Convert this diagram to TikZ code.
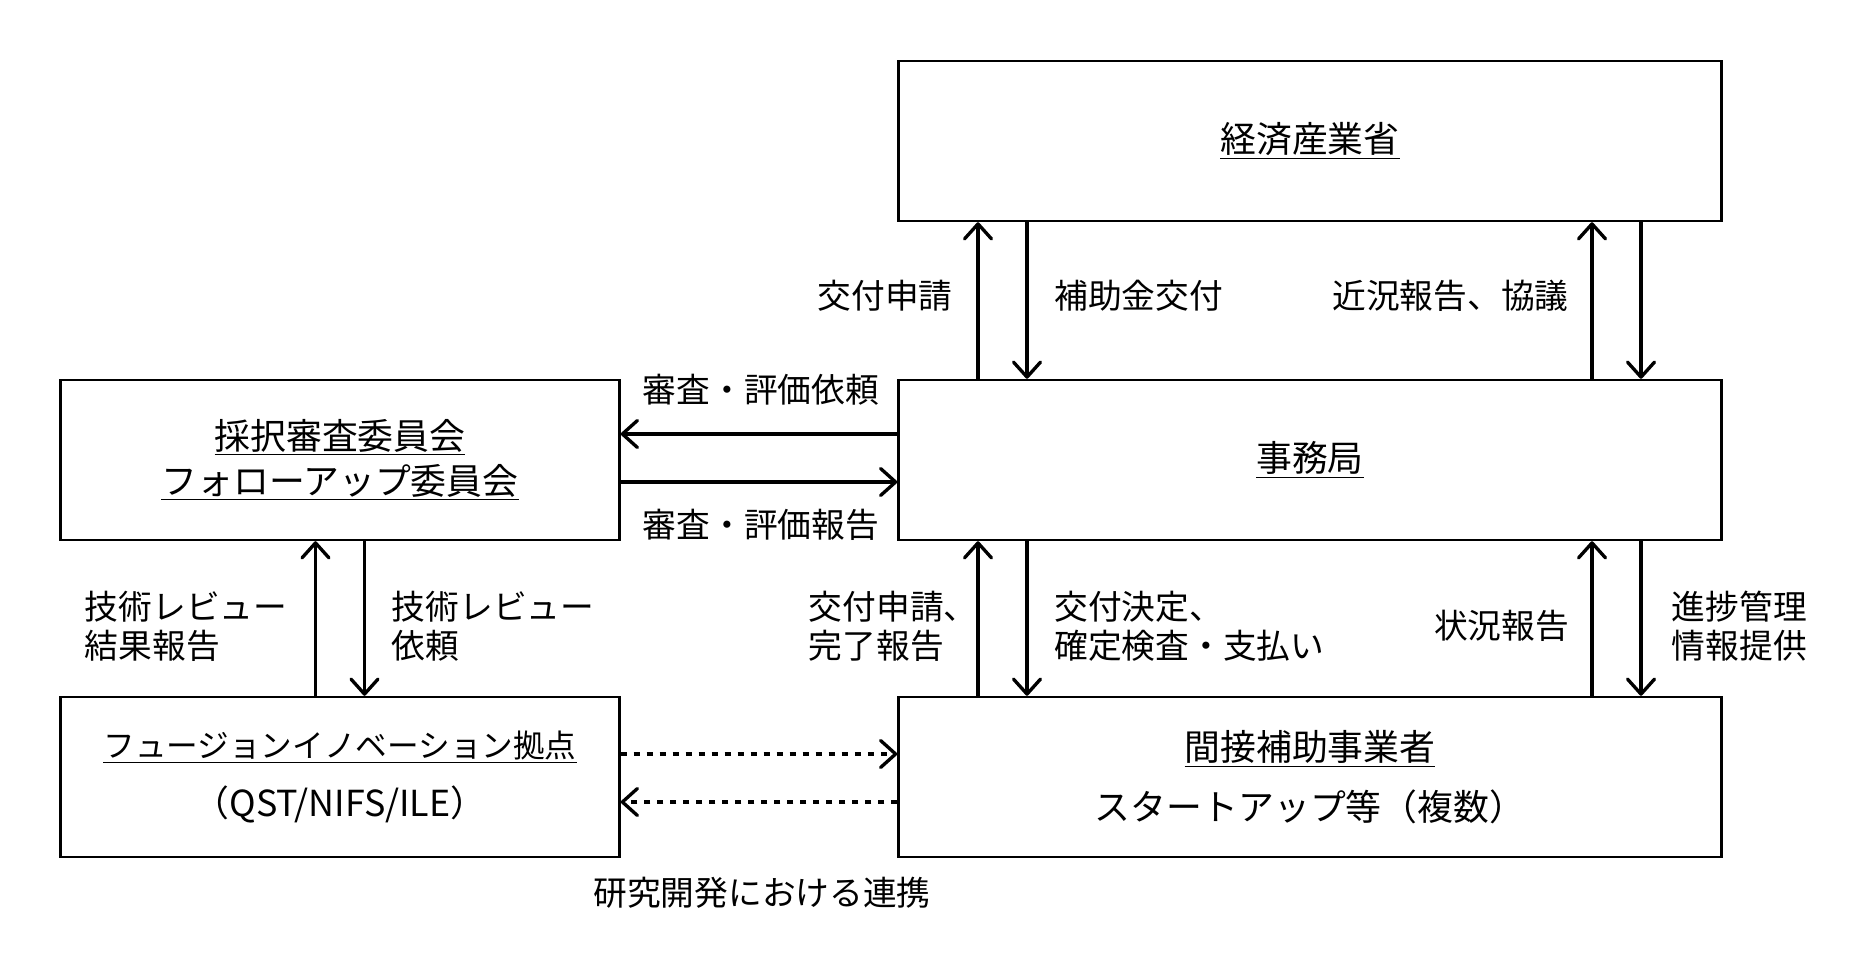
\documentclass[tikz,border=0pt]{standalone}
\usepackage{fontspec}
\setmainfont{Noto Sans CJK JP}
\usetikzlibrary{arrows.meta}

\begin{document}
\begin{tikzpicture}[y=-1cm,
					box/.style={draw, line width=1.4pt, minimum height=3.2cm, align=center, inner sep=0pt},
					wide/.style={box, minimum width=16.46cm}, narrow/.style={box, minimum width=11.18cm},
					lbl/.style={inner sep=0pt, align=left, font=\fontsize{19.2pt}{22.3pt}\selectfont},
					flow/.style={line width=1.9pt, -{Straight Barb[length=0.3cm, width=0.54cm, round]}},
					link/.style={flow, dash pattern=on 0.13cm off 0.13cm}]
\useasboundingbox (0,0) rectangle (37.24,19.32);

% boxes
\node[wide, font=\fontsize{20.4pt}{25.6pt}\selectfont] (meti) at (26.2,2.82) {\underline{経済産業省}};
\node[wide, font=\fontsize{20.4pt}{25.6pt}\selectfont] (jimu) at (26.2,9.2) {\underline{事務局}};
\node[narrow, font=\fontsize{20.4pt}{25.6pt}\selectfont] (iinkai) at (6.8,9.2)
    {\underline{採択審査委員会}\\\underline{フォローアップ委員会}};
\node[narrow, font=\fontsize{20.4pt}{33.8pt}\selectfont] (kyoten) at (6.8,15.54)
    {{\fontsize{18pt}{33.8pt}\selectfont\underline{フュージョンイノベーション拠点}}\\（QST/NIFS/ILE）};
\node[wide, font=\fontsize{20.4pt}{33.8pt}\selectfont] (jigyo) at (26.2,15.54)
    {\underline{間接補助事業者}\\スタートアップ等（複数）};

% meti <-> jimu
\draw[flow] ([xshift=-6.64cm]jimu.north) -- ([xshift=-6.64cm]meti.south);
\draw[flow] ([xshift=-5.66cm]meti.south) -- ([xshift=-5.66cm]jimu.north);
\draw[flow] ([xshift=5.64cm]jimu.north) -- ([xshift=5.64cm]meti.south);
\draw[flow] ([xshift=6.62cm]meti.south) -- ([xshift=6.62cm]jimu.north);
\node[lbl, anchor=east] (shinsei) at (19.06,5.92) {交付申請};
\node[lbl, anchor=west] (kofu) at (21.08,5.92) {補助金交付};
\node[lbl, anchor=east] (kinkyo) at (31.38,5.92) {近況報告、協議};

% jimu <-> iinkai
\draw[flow] ([yshift=0.52cm]jimu.west) -- ([yshift=0.52cm]iinkai.east);
\draw[flow] ([yshift=-0.44cm]iinkai.east) -- ([yshift=-0.44cm]jimu.west);
\node[lbl] (irai) at (15.22,7.8) {審査・評価依頼};
\node[lbl] (hokoku) at (15.22,10.5) {審査・評価報告};

% iinkai <-> kyoten
\draw[flow] ([xshift=-0.49cm]kyoten.north) -- ([xshift=-0.49cm]iinkai.south);
\draw[flow] ([xshift=0.49cm]iinkai.south) -- ([xshift=0.49cm]kyoten.north);
\node[lbl, anchor=west] (review) at (1.69,12.53) {技術レビュー\\結果報告};
\node[lbl, anchor=west] (reviewirai) at (7.83,12.53) {技術レビュー\\依頼};

% jimu <-> jigyo
\draw[flow] ([xshift=-6.64cm]jigyo.north) -- ([xshift=-6.64cm]jimu.south);
\draw[flow] ([xshift=-5.66cm]jimu.south) -- ([xshift=-5.66cm]jigyo.north);
\draw[flow] ([xshift=5.64cm]jigyo.north) -- ([xshift=5.64cm]jimu.south);
\draw[flow] ([xshift=6.62cm]jimu.south) -- ([xshift=6.62cm]jigyo.north);
\node[lbl, anchor=west] (kanryo) at (16.17,12.53) {交付申請、\\完了報告};
\node[lbl, anchor=west] (kettei) at (21.08,12.53) {交付決定、\\確定検査・支払い};
\node[lbl] (jokyo) at (30.03,12.52) {状況報告};
\node[lbl, anchor=west] (shincho) at (33.43,12.53) {進捗管理\\情報提供};

% kyoten <-> jigyo
\draw[link] ([yshift=0.46cm]kyoten.east) -- ([yshift=0.46cm]jigyo.west);
\draw[link] ([yshift=-0.5cm]jigyo.west) -- ([yshift=-0.5cm]kyoten.east);
\node[lbl] (renkei) at (15.24,17.85) {研究開発における連携};
\end{tikzpicture}
\end{document}
